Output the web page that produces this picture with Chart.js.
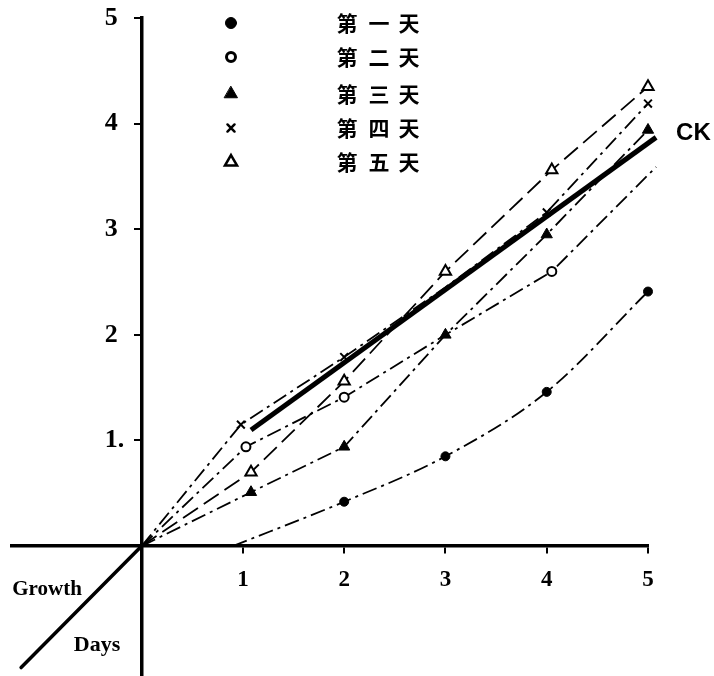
<!DOCTYPE html>
<html lang="zh">
<head>
    <meta charset="UTF-8">
    <title>Growth Days</title>
    <script src="https://cdn.jsdelivr.net/npm/chart.js@4.4.0/dist/chart.umd.min.js"></script>
    <style>
        html, body { margin: 0; padding: 0; background: #fff; }
    </style>
</head>
<body>

    <canvas id="chart" width="714" height="676"></canvas>

    <script>

    // values
    const xTicks = [1, 2, 3, 4, 5];
    const xTickLabels = ['1', '2', '3', '4', '5'];
    const yTicks = [1, 2, 3, 4, 5];
    const yTickLabels = ['1.', '2', '3', '4', '5'];

    const seriesNames = ['第一天', '第二天', '第三天', '第四天', '第五天'];

    const day1X = [0.9, 2, 3, 4, 5];
    const day1Y = [0, 0.42, 0.85, 1.46, 2.41];

    const day2X = [0, 1.03, 2, 3, 4.05, 5.08];
    const day2Y = [0, 0.94, 1.41, 2.0, 2.6, 3.59];

    const day3X = [0, 1.08, 2, 3, 4, 5];
    const day3Y = [0, 0.51, 0.94, 2.0, 2.95, 3.94];

    const day4X = [0, 0.98, 2, 3, 4, 5];
    const day4Y = [0, 1.15, 1.79, 2.45, 3.16, 4.19];

    const day5X = [0, 1.08, 2, 3, 4.05, 5];
    const day5Y = [0, 0.7, 1.56, 2.6, 3.56, 4.35];

    const ckX = [1.08, 5.08];
    const ckY = [1.1, 3.87];

    function pts(xs, ys) {
        return xs.map((x, i) => ({x: x, y: ys[i]}));
    }

    // no marker at the origin / where the source shows none
    function radii(xs, r, skip) {
        return xs.map(x => (x === 0 || (skip && skip.includes(x))) ? 0 : r);
    }

    const dashDot = [15, 5, 3, 5];

    const markers = [
        {pointStyle: 'circle', radius: 4.5, fill: '#000', borderWidth: 1},
        {pointStyle: 'circle', radius: 4.5, fill: '#fff', borderWidth: 2},
        {pointStyle: 'triangle', radius: 6.5, fill: '#000', borderWidth: 1},
        {pointStyle: 'crossRot', radius: 5.5, fill: '#000', borderWidth: 2},
        {pointStyle: 'triangle', radius: 6.5, fill: '#fff', borderWidth: 2}
    ];

    // legend markers are drawn a little heavier than in the plot
    const legendMarkers = [
        {radius: 5.5, borderWidth: 1},
        {radius: 4.5, borderWidth: 3},
        {radius: 7.5, borderWidth: 1},
        {radius: 5, borderWidth: 2.5},
        {radius: 7, borderWidth: 2.5}
    ];

    function series(i, xs, ys, dash, skip) {
        const m = markers[i];
        return {
            label: seriesNames[i],
            data: pts(xs, ys),
            showLine: true,
            borderColor: '#000',
            borderWidth: 1.8,
            borderDash: dash,
            pointStyle: m.pointStyle,
            pointRadius: radii(xs, m.radius, skip),
            pointBackgroundColor: m.fill,
            pointBorderColor: '#000',
            pointBorderWidth: m.borderWidth,
            clip: false,
            order: 2
        };
    }

    const datasets = [
        Object.assign(series(0, day1X, day1Y, dashDot), {
            pointRadius: day1X.map((x, i) => i === 0 ? 0 : 4.5),
            cubicInterpolationMode: 'monotone'
        }),
        series(1, day2X, day2Y, dashDot, [3]),
        series(2, day3X, day3Y, dashDot),
        series(3, day4X, day4Y, dashDot, [3]),
        series(4, day5X, day5Y, [18, 7]),
        {
            label: 'CK',
            data: pts(ckX, ckY),
            showLine: true,
            borderColor: '#000',
            borderWidth: 5,
            pointRadius: 0,
            clip: false,
            order: 1
        }
    ];

    const serif = '"Liberation Serif", "DejaVu Serif", serif';

    // axes sit inside the chart area, so they must not take any layout room
    function noRoom(s) {
        s.width = 0;
        s.height = 0;
        s.paddingTop = s.paddingBottom = s.paddingLeft = s.paddingRight = 0;
    }

    const extras = {
        id: 'extras',
        afterDraw(chart) {
            const ctx = chart.ctx;
            const xs = chart.scales.x, ys = chart.scales.y;
            const x0 = xs.getPixelForValue(0), y0 = ys.getPixelForValue(0);
            ctx.save();
            ctx.fillStyle = '#000';

            // tick labels
            ctx.font = 'bold 23px ' + serif;
            ctx.textAlign = 'center';
            ctx.textBaseline = 'middle';
            xTicks.forEach((v, i) => ctx.fillText(xTickLabels[i], xs.getPixelForValue(v), y0 + 34));
            ctx.font = 'bold 26px ' + serif;
            ctx.textAlign = 'right';
            yTicks.forEach((v, i) => {
                const lab = yTickLabels[i];
                // the "1." keeps its dot hanging past the digit column
                const shift = lab.endsWith('.') ? ctx.measureText('.').width : 0;
                ctx.fillText(lab, x0 - 24 + shift, ys.getPixelForValue(v));
            });

            // third (growth days) axis going down-left from the origin
            ctx.strokeStyle = '#000';
            ctx.lineWidth = 3.5;
            ctx.lineCap = 'round';
            ctx.beginPath();
            ctx.moveTo(x0, y0);
            ctx.lineTo(xs.getPixelForValue(-1.19), ys.getPixelForValue(-1.15));
            ctx.stroke();

            ctx.textAlign = 'center';
            ctx.font = 'bold 21px ' + serif;
            ctx.fillText('Growth', 47, 590);
            ctx.font = 'bold 22px ' + serif;
            ctx.fillText('Days', 97, 645);

            // CK label beside the end of the CK line
            const last = ckX.length - 1;
            ctx.font = 'bold 24px "Liberation Sans", Arial, sans-serif';
            ctx.textAlign = 'left';
            ctx.fillText('CK', xs.getPixelForValue(ckX[last]) + 20, ys.getPixelForValue(ckY[last]) - 4);

            // legend
            const rows = [23, 57, 94, 128, 162];
            const charX = [347, 379, 409];
            seriesNames.forEach((name, i) => {
                const m = markers[i], lm = legendMarkers[i];
                ctx.fillStyle = m.fill;
                ctx.strokeStyle = '#000';
                ctx.lineWidth = lm.borderWidth;
                Chart.helpers.drawPoint(ctx, {
                    pointStyle: m.pointStyle,
                    radius: lm.radius,
                    rotation: 0,
                    borderWidth: lm.borderWidth
                }, 231, rows[i]);
                ctx.fillStyle = '#000';
                ctx.font = 'bold 21px "Noto Sans CJK SC"';
                ctx.textAlign = 'center';
                ctx.textBaseline = 'middle';
                [...name].forEach((ch, k) => ctx.fillText(ch, charX[k], rows[i]));
            });

            ctx.restore();
        }
    };

    const ctx = document.getElementById('chart').getContext('2d');
    const myChart = new Chart(ctx, {
        type: 'scatter',
        data: { datasets: datasets },
        options: {
            responsive: false,
            animation: false,
            layout: { autoPadding: false, padding: { left: 12, right: 66, top: 18, bottom: 0 } },
            plugins: {
                legend: { display: false },
                tooltip: { enabled: false }
            },
            scales: {
                x: {
                    type: 'linear',
                    min: -1.28,
                    max: 5,
                    position: { y: 0 },
                    afterBuildTicks: s => { s.ticks = xTicks.map(v => ({value: v})); },
                    afterFit: noRoom,
                    ticks: { display: false },
                    grid: { drawOnChartArea: false, drawTicks: true, tickLength: 6, color: '#000', lineWidth: 2 },
                    border: { display: true, color: '#000', width: 3.5 }
                },
                y: {
                    type: 'linear',
                    min: -1.23,
                    max: 5,
                    position: { x: 0 },
                    afterBuildTicks: s => { s.ticks = yTicks.map(v => ({value: v})); },
                    afterFit: noRoom,
                    ticks: { display: false },
                    grid: { drawOnChartArea: false, drawTicks: true, tickLength: 6, color: '#000', lineWidth: 2 },
                    border: { display: true, color: '#000', width: 3.5 }
                }
            }
        },
        plugins: [extras]
    });

    </script>
</body>
</html>
